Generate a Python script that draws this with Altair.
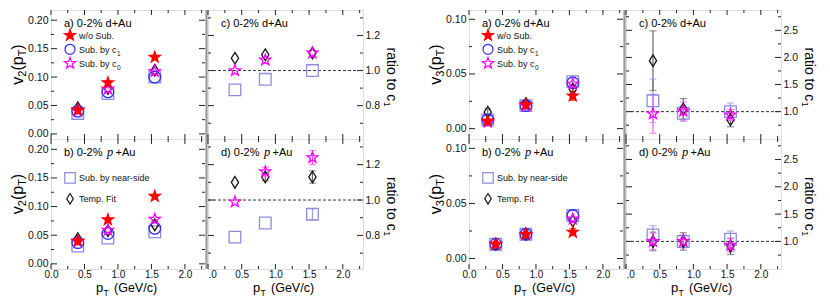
import altair as alt
import pandas as pd

FONT = "Liberation Sans"

# ---------------- data ----------------
PT = [0.40, 0.85, 1.55]
PT_V3_DAU = [0.28, 0.85, 1.55]

SERIES = ["Sub. by near-side", "Temp. Fit", "Sub. by c1", "Sub. by c0", "w/o Sub."]

# v2 d+Au
V2_DAU_NS = [0.036, 0.071, 0.100]
V2_DAU_TF = [0.046, 0.080, 0.112]
V2_DAU_C1 = [0.040, 0.074, 0.100]
V2_DAU_C0 = [0.041, 0.079, 0.110]
V2_DAU_WO = [0.042, 0.090, 0.135]
# v2 p+Au
V2_PAU_NS = [0.031, 0.045, 0.056]
V2_PAU_TF = [0.044, 0.058, 0.068]
V2_PAU_C1 = [0.037, 0.053, 0.062]
V2_PAU_C0 = [0.039, 0.059, 0.078]
V2_PAU_WO = [0.040, 0.077, 0.118]
# v2 ratio to c1, d+Au
R2_DAU_NS = [0.89, 0.95, 1.00]
R2_DAU_TF = [1.07, 1.09, 1.10]
R2_DAU_C0 = [1.00, 1.06, 1.10]
# v2 ratio to c1, p+Au
R2_PAU_NS = [0.79, 0.87, 0.92]
R2_PAU_NS_ERR = [0.0, 0.0, 0.03]
R2_PAU_TF = [1.10, 1.13, 1.13]
R2_PAU_TF_ERR = [0.0, 0.02, 0.035]
R2_PAU_C0 = [0.99, 1.16, 1.24]
R2_PAU_C0_ERR = [0.0, 0.025, 0.04]
# v3 d+Au
V3_DAU_NS = [0.008, 0.021, 0.043]
V3_DAU_NS_ERR = [0.0, 0.0, 0.003]
V3_DAU_TF = [0.015, 0.023, 0.036]
V3_DAU_TF_ERR = [0.003, 0.002, 0.004]
V3_DAU_C1 = [0.008, 0.021, 0.042]
V3_DAU_C0 = [0.006, 0.021, 0.041]
V3_DAU_WO = [0.007, 0.022, 0.030]
V3_DAU_WO_ERR = [0.0, 0.0, 0.004]
# v3 p+Au
V3_PAU_NS = [0.013, 0.022, 0.039]
V3_PAU_TF = [0.013, 0.022, 0.034]
V3_PAU_C1 = [0.013, 0.022, 0.039]
V3_PAU_C0 = [0.013, 0.022, 0.036]
V3_PAU_WO = [0.013, 0.022, 0.024]
V3_PAU_WO_ERR = [0.0, 0.0, 0.003]
# v3 ratio to c1, d+Au
R3_DAU_NS = [1.20, 0.97, 1.00]
R3_DAU_NS_ERR = [0.40, 0.15, 0.16]
R3_DAU_TF = [1.94, 1.05, 0.85]
R3_DAU_TF_ERR = [0.55, 0.19, 0.13]
R3_DAU_C0 = [0.96, 1.01, 0.94]
R3_DAU_C0_ERR = [0.36, 0.17, 0.10]
# v3 ratio to c1, p+Au
R3_PAU_NS = [1.12, 1.00, 1.04]
R3_PAU_NS_ERR = [0.17, 0.08, 0.15]
R3_PAU_TF = [1.00, 1.00, 0.91]
R3_PAU_TF_ERR = [0.17, 0.16, 0.15]
R3_PAU_C0 = [1.00, 1.00, 0.93]
R3_PAU_C0_ERR = [0.15, 0.12, 0.12]

ZERO = [0.0, 0.0, 0.0]

# axis tick values / labels
X_MAJOR = [0.0, 0.5, 1.0, 1.5, 2.0]
X_MINOR = [0.25, 0.75, 1.25, 1.75, 2.25]
V2_MAJOR = [0.0, 0.05, 0.10, 0.15, 0.20]
V2_MINOR = [0.025, 0.075, 0.125, 0.175]
R2_MAJOR = [0.8, 1.0, 1.2]
R2_MINOR = [0.7, 0.9, 1.1, 1.3]
V3_MAJOR = [0.0, 0.05, 0.10]
V3_MINOR = [0.025, 0.075]
R3_MAJOR = [1.0, 1.5, 2.0, 2.5]
R3_MINOR = [0.75, 1.25, 1.75, 2.25, 2.75]
REF = [1.0]

PANEL_TAGS = ["a) 0-2% d+Au", "b) 0-2%", "c) 0-2% d+Au", "d) 0-2%"]
P_ITALIC = "p"
P_AU = "+Au"

# legend entries: (series, main text, subscript)
LEGEND_TOP = [("w/o Sub.", "w/o Sub.", ""), ("Sub. by c1", "Sub. by c", "1"),
              ("Sub. by c0", "Sub. by c", "0")]
LEGEND_BOTTOM = [("Sub. by near-side", "Sub. by near-side", ""), ("Temp. Fit", "Temp. Fit", "")]

# ---------------- styles ----------------
STAR = ("M0,-1L0.235,-0.324L0.951,-0.309L0.38,0.124L0.588,0.809L0,0.4"
        "L-0.588,0.809L-0.38,0.124L-0.951,-0.309L-0.235,-0.324Z")
DIAMOND = "M0,-1L0.62,0L0,1L-0.62,0Z"
SHAPES = ["square", DIAMOND, "circle", STAR, STAR]
STROKES = ["#8c8ce0", "#111111", "#2a2aff", "#ff00ff", "#ff0000"]
FILLS = ["transparent", "transparent", "transparent", "transparent", "#ff0000"]
SIZES = [135, 135, 125, 175, 175]
LEG_SIZES = [110, 110, 100, 140, 140]
ECOL = {"Sub. by near-side": "#9a9ae0", "Temp. Fit": "#666666",
        "Sub. by c1": "#2a2aff", "Sub. by c0": "#ff55ff", "w/o Sub.": "#ff0000"}

CW = {"v": .5, "(": .333, ")": .333, "p": .556, "T": .611, "r": .333, "a": .556,
      "t": .278, "i": .222, "o": .556, " ": .278, "c": .5, "G": .778, "e": .556,
      "V": .667, "/": .278, "S": .667, "u": .556, "b": .556, ".": .278, "y": .5,
      "w": .722, "n": .556, "s": .5, "d": .556, "-": .333, "m": .833, "F": .611,
      "%": .889, "A": .667, "+": .584}


def tw(s, size):
    return sum(CW.get(ch, 0.556) for ch in s) * size


def tlayer(txt, x, y, size, angle=0, align="left", baseline="alphabetic",
           style="normal", font=FONT, color="#000"):
    return alt.Chart(pd.DataFrame({"t": [txt]})).mark_text(
        align=align, baseline=baseline, angle=angle, fontSize=size,
        font=font, fontStyle=style, color=color
    ).encode(text="t:N", x=alt.value(x), y=alt.value(y))


def make_rows(xs, series_list):
    recs = []
    for name, ys, errs in series_list:
        for x, y, e in zip(xs, ys, errs):
            recs.append({"x": x, "y": y, "lo": y - e, "hi": y + e, "err": e,
                         "series": name, "ecol": ECOL[name]})
    return pd.DataFrame(recs)


def legend_layers(entries, y0, step):
    out = []
    for i, (name, main, sub) in enumerate(entries):
        k = SERIES.index(name)
        cy = y0 + i * step
        out.append(alt.Chart(pd.DataFrame({"k": [name]})).mark_point(
            shape=SHAPES[k], stroke=STROKES[k], fill=FILLS[k], size=LEG_SIZES[k],
            strokeWidth=1.2, opacity=1).encode(x=alt.value(19), y=alt.value(cy)))
        out.append(tlayer(main, 28, cy + 3.3, 9, color="#111"))
        if sub:
            out.append(tlayer(sub, 28 + tw(main, 9) + 0.5, cy + 6.5, 6.5, color="#111"))
    return out


def panel(df, ydom, ymaj, ymin, yfmt, right, bottom, W, H, tag_idx,
          ytitle, legend=None, legend_y=0.0, legend_step=14, ratio=False):
    xs = alt.Scale(domain=[0, 2.3], nice=False, zero=False)
    ys = alt.Scale(domain=ydom, nice=False, zero=False)
    lab = dict(labelFont=FONT, labelFontSize=10.5, labelColor="#111",
               ticks=False, tickSize=0, domain=False, grid=False, title=None,
               labelOverlap=False, labelFlush=False)
    if bottom:
        xlab = dict(lab, labelFontSize=10)
        if right:
            xax = alt.Axis(values=X_MAJOR, orient="bottom", labelPadding=0.5,
                           labelExpr="datum.value == 0 ? '.0' : format(datum.value, '.1f')",
                           labelAlign={"condition": {"test": "datum.value == 0", "value": "left"},
                                       "value": "center"},
                           **xlab)
        else:
            xax = alt.Axis(values=X_MAJOR, format=".1f", orient="bottom",
                           labelPadding=0.5, **xlab)
    else:
        xax = None
    yax = alt.Axis(values=ymaj, format=yfmt, orient="right" if right else "left",
                   labelPadding=2 if right else 3, **lab)

    def X(f):
        return alt.X(f, type="quantitative", scale=xs, axis=xax)

    def Y(f):
        return alt.Y(f, type="quantitative", scale=ys, axis=yax)

    layers = []
    # inward ticks on all four sides
    for vals, ln in ((X_MAJOR, 5), (X_MINOR, 3)):
        d = pd.DataFrame({"v": vals})
        layers.append(alt.Chart(d).mark_rule(color="#222", strokeWidth=1).encode(
            x=X("v"), y=alt.value(H), y2=alt.value(H - ln)))
        layers.append(alt.Chart(d).mark_rule(color="#222", strokeWidth=1).encode(
            x=X("v"), y=alt.value(0), y2=alt.value(ln)))
    for vals, ln in ((ymaj, 6), (ymin, 3)):
        d = pd.DataFrame({"v": vals})
        layers.append(alt.Chart(d).mark_rule(color="#222", strokeWidth=1).encode(
            y=Y("v"), x=alt.value(0), x2=alt.value(ln)))
        layers.append(alt.Chart(d).mark_rule(color="#222", strokeWidth=1).encode(
            y=Y("v"), x=alt.value(W), x2=alt.value(W - ln)))
    if ratio:
        layers.append(alt.Chart(pd.DataFrame({"v": REF})).mark_rule(
            color="#333", strokeWidth=1, strokeDash=[3, 2]).encode(
            y=Y("v"), x=alt.value(0), x2=alt.value(W)))
    else:
        # grey pad border between the v_n and ratio pads
        layers.append(alt.Chart(pd.DataFrame({"v": [0]})).mark_rule(
            color="#9a9a9a", strokeWidth=2).encode(
            x=alt.value(W + 1.6), y=alt.value(0), y2=alt.value(H)))
    # error bars
    base = alt.Chart(df).transform_filter("datum.err > 0")
    layers.append(base.mark_rule(strokeWidth=1.2).encode(
        x=X("x"), y=Y("lo"), y2="hi", color=alt.Color("ecol:N", scale=None)))
    layers.append(base.mark_tick(orient="horizontal", size=7, thickness=1.2).encode(
        x=X("x"), y=Y("lo"), color=alt.Color("ecol:N", scale=None)))
    layers.append(base.mark_tick(orient="horizontal", size=7, thickness=1.2).encode(
        x=X("x"), y=Y("hi"), color=alt.Color("ecol:N", scale=None)))
    # points
    layers.append(alt.Chart(df).mark_point(opacity=1, strokeWidth=1.3).encode(
        x=X("x"), y=Y("y"),
        shape=alt.Shape("series:N", scale=alt.Scale(domain=SERIES, range=SHAPES), legend=None),
        stroke=alt.Stroke("series:N", scale=alt.Scale(domain=SERIES, range=STROKES), legend=None),
        fill=alt.Fill("series:N", scale=alt.Scale(domain=SERIES, range=FILLS), legend=None),
        size=alt.Size("series:N", scale=alt.Scale(domain=SERIES, range=SIZES), legend=None),
    ))
    if legend:
        layers += legend_layers(legend, legend_y, legend_step)
    # panel tag
    layers.append(tlayer(PANEL_TAGS[tag_idx], 13, 17, 11))
    if tag_idx in (1, 3):
        layers.append(tlayer(P_ITALIC, 56, 17, 12.5, style="italic", font="Liberation Serif"))
        layers.append(tlayer(P_AU, 64.5, 17, 11))
    # y title
    if right:
        main, sub = ytitle
        x0 = W + 28
        y0 = H / 2 - 27
        layers.append(tlayer(main, x0, y0, 14, angle=90, baseline="middle"))
        layers.append(tlayer(sub, x0 - 4, y0 + tw(main, 14) + 0.5, 9, angle=90, baseline="middle"))
    else:
        pieces = ytitle  # list of (text, size, is_sub)
        total = sum(tw(t, s) for t, s, _ in pieces)
        ycur = H / 2 - 10 + total / 2
        for t, s, issub in pieces:
            layers.append(tlayer(t, -33 + (5 if issub else 0), ycur, s, angle=270,
                                 baseline="middle"))
            ycur -= tw(t, s)
    # x title
    if bottom:
        layers.append(tlayer("p", 45, H + 23, 13))
        layers.append(tlayer("T", 52.5, H + 26.5, 8.5))
        layers.append(tlayer("(GeV/c)", 63, H + 23, 12.5))
    return alt.layer(*layers).properties(width=W, height=H)


def spacer(W, H):
    return alt.Chart(pd.DataFrame({"s": [0]})).mark_point(opacity=0).encode(
        x=alt.X("s:Q", axis=None), y=alt.Y("s:Q", axis=None)
    ).properties(width=W, height=H, view=alt.ViewBackground(strokeOpacity=0))


YT2 = [("v", 16, False), ("2", 11, True), ("(p", 16, False), ("T", 11, True), (")", 16, False)]
YT3 = [("v", 16, False), ("3", 11, True), ("(p", 16, False), ("T", 11, True), (")", 16, False)]
RT = ("ratio to c", "1")

V2D = (-0.009, 0.218)
R2D = (0.61, 1.345)
V3D = (-0.0095, 0.1085)
R3D = (0.495, 2.875)

a2 = panel(make_rows(PT, [("Sub. by near-side", V2_DAU_NS, ZERO), ("Temp. Fit", V2_DAU_TF, ZERO),
                          ("Sub. by c1", V2_DAU_C1, ZERO), ("Sub. by c0", V2_DAU_C0, ZERO),
                          ("w/o Sub.", V2_DAU_WO, ZERO)]),
           V2D, V2_MAJOR, V2_MINOR, ".2f", False, False, 154, 129, 0, YT2,
           LEGEND_TOP, 25.3, 14)
b2 = panel(make_rows(PT, [("Sub. by near-side", V2_PAU_NS, ZERO), ("Temp. Fit", V2_PAU_TF, ZERO),
                          ("Sub. by c1", V2_PAU_C1, ZERO), ("Sub. by c0", V2_PAU_C0, ZERO),
                          ("w/o Sub.", V2_PAU_WO, ZERO)]),
           V2D, V2_MAJOR, V2_MINOR, ".2f", False, True, 154, 130, 1, YT2,
           LEGEND_BOTTOM, 38.8, 21)
c2 = panel(make_rows(PT, [("Sub. by near-side", R2_DAU_NS, ZERO), ("Temp. Fit", R2_DAU_TF, ZERO),
                          ("Sub. by c0", R2_DAU_C0, ZERO)]),
           R2D, R2_MAJOR, R2_MINOR, ".1f", True, False, 155, 129, 2, RT, ratio=True)
d2 = panel(make_rows(PT, [("Sub. by near-side", R2_PAU_NS, R2_PAU_NS_ERR),
                          ("Temp. Fit", R2_PAU_TF, R2_PAU_TF_ERR),
                          ("Sub. by c0", R2_PAU_C0, R2_PAU_C0_ERR)]),
           R2D, R2_MAJOR, R2_MINOR, ".1f", True, True, 155, 130, 3, RT, ratio=True)

a3 = panel(make_rows(PT_V3_DAU, [("Sub. by near-side", V3_DAU_NS, V3_DAU_NS_ERR),
                                 ("Temp. Fit", V3_DAU_TF, V3_DAU_TF_ERR),
                                 ("Sub. by c1", V3_DAU_C1, ZERO), ("Sub. by c0", V3_DAU_C0, ZERO),
                                 ("w/o Sub.", V3_DAU_WO, V3_DAU_WO_ERR)]),
           V3D, V3_MAJOR, V3_MINOR, ".2f", False, False, 154, 129, 0, YT3,
           LEGEND_TOP, 25.3, 14)
b3 = panel(make_rows(PT, [("Sub. by near-side", V3_PAU_NS, ZERO), ("Temp. Fit", V3_PAU_TF, ZERO),
                          ("Sub. by c1", V3_PAU_C1, ZERO), ("Sub. by c0", V3_PAU_C0, ZERO),
                          ("w/o Sub.", V3_PAU_WO, V3_PAU_WO_ERR)]),
           V3D, V3_MAJOR, V3_MINOR, ".2f", False, True, 154, 130, 1, YT3,
           LEGEND_BOTTOM, 38.8, 21)
c3 = panel(make_rows(PT, [("Sub. by near-side", R3_DAU_NS, R3_DAU_NS_ERR),
                          ("Temp. Fit", R3_DAU_TF, R3_DAU_TF_ERR),
                          ("Sub. by c0", R3_DAU_C0, R3_DAU_C0_ERR)]),
           R3D, R3_MAJOR, R3_MINOR, ".1f", True, False, 155, 129, 2, RT, ratio=True)
d3 = panel(make_rows(PT, [("Sub. by near-side", R3_PAU_NS, R3_PAU_NS_ERR),
                          ("Temp. Fit", R3_PAU_TF, R3_PAU_TF_ERR),
                          ("Sub. by c0", R3_PAU_C0, R3_PAU_C0_ERR)]),
           R3D, R3_MAJOR, R3_MINOR, ".1f", True, True, 155, 130, 3, RT, ratio=True)

chart = alt.concat(
    a2, c2, spacer(100, 129), a3, c3,
    b2, d2, spacer(100, 130), b3, d3,
    columns=5, spacing={"row": 0, "column": 3}, bounds="flush",
).resolve_scale(
    shape="independent", stroke="independent", fill="independent", size="independent",
    x="independent", y="independent",
).properties(
    padding={"left": 1, "top": 0, "right": 4, "bottom": 4},
).configure_view(stroke="#222", strokeWidth=1).configure(background="white")

chart.save("out.html", embed_options={"renderer": "svg", "actions": False})
